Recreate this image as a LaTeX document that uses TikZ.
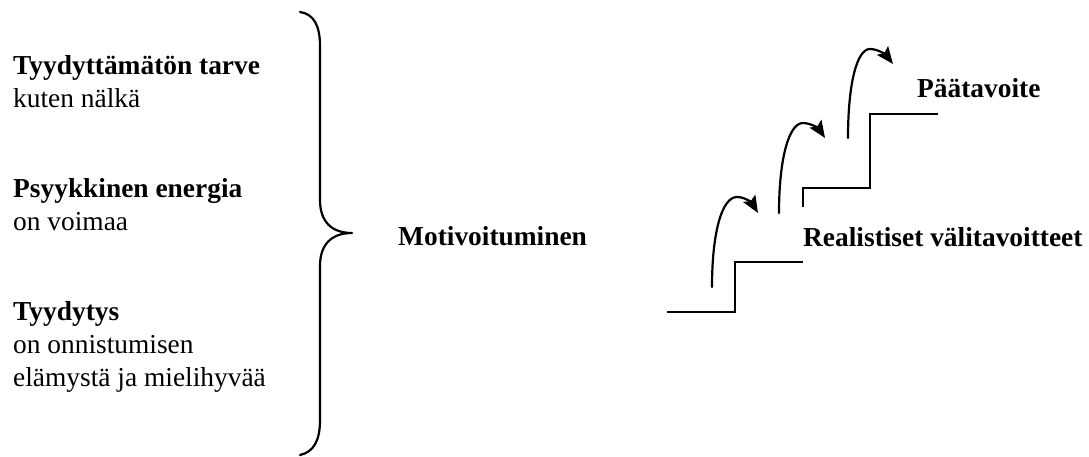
\documentclass[tikz,border=0pt]{standalone}
\usepackage{fontspec}
\setmainfont{Liberation Serif}
\usetikzlibrary{arrows.meta}
\begin{document}
\begin{tikzpicture}
% Motivation diagram: needs on the left, brace, stairs with jumps on the right
\def\txtsz{27.4}
\def\txtskip{33}
\providecommand{\motLineWidth}{2.2pt}
\providecommand{\motTipStyle}{Stealth[length=17pt,width=14pt,inset=3pt]}
\tikzset{
  lbl/.style={anchor=base west, inner sep=0pt, font=\fontsize{\txtsz}{\txtskip}\selectfont},
  lblbold/.style={lbl, font=\fontsize{\txtsz}{\txtskip}\selectfont\bfseries},
}
\begin{scope}[x=1pt, y=-1pt, line cap=round, line join=round]
  % Frame
  \useasboundingbox (0,0) rectangle (1089,456);
  % Left column texts
  \node[lblbold] (need)    at (13,74)  {Tyydyttämätön tarve};
  \node[lbl]     (needx)   at (13,107) {kuten nälkä};
  \node[lblbold] (energy)  at (13,197) {Psyykkinen energia};
  \node[lbl]     (energyx) at (13,230) {on voimaa};
  \node[lblbold] (satis)   at (13,320) {Tyydytys};
  \node[lbl]     (satisx)  at (13,353) {on onnistumisen};
  \node[lbl]     (satisy)  at (13,386) {elämystä ja mielihyvää};
  % Brace
  \draw[line width=2.2pt] (300,12) .. controls (314,14) and (320,26) .. (320,46)
    -- (320,200) .. controls (320,222) and (332,233) .. (352,233)
    .. controls (332,233) and (320,244) .. (320,266)
    -- (320,420) .. controls (320,440) and (314,452) .. (300,455);
  % Middle and right texts
  \node[lblbold] (motiv) at (398,245) {Motivoituminen};
  \node[lblbold] (goals) at (803,246) {Realistiset välitavoitteet};
  \node[lblbold] (main)  at (917,97)  {Päätavoite};
  % Stairs
  \begin{scope}[line width=\motLineWidth, line cap=butt, line join=miter]
    \draw (667,312) -- (735,312) -- (735,262) -- (803,262);
    \draw (803,207) -- (803,188) -- (870,188) -- (870,114) -- (938,114);
  \end{scope}
  % Jumps
  \begin{scope}[line width=2.2pt, -{\motTipStyle}]
    \draw (712,287) .. controls (712,232) and (722,197) .. (737,197)
      .. controls (745,197) and (752,203) .. (758,213);
    \draw (779,213) .. controls (779,158) and (789,123) .. (803,123)
      .. controls (811,123) and (819,129) .. (825,138);
    \draw (848,138) .. controls (848,83) and (857,49) .. (870,49)
      .. controls (878,49) and (886,55) .. (893,64);
  \end{scope}
\end{scope}
\end{tikzpicture}
\end{document}
